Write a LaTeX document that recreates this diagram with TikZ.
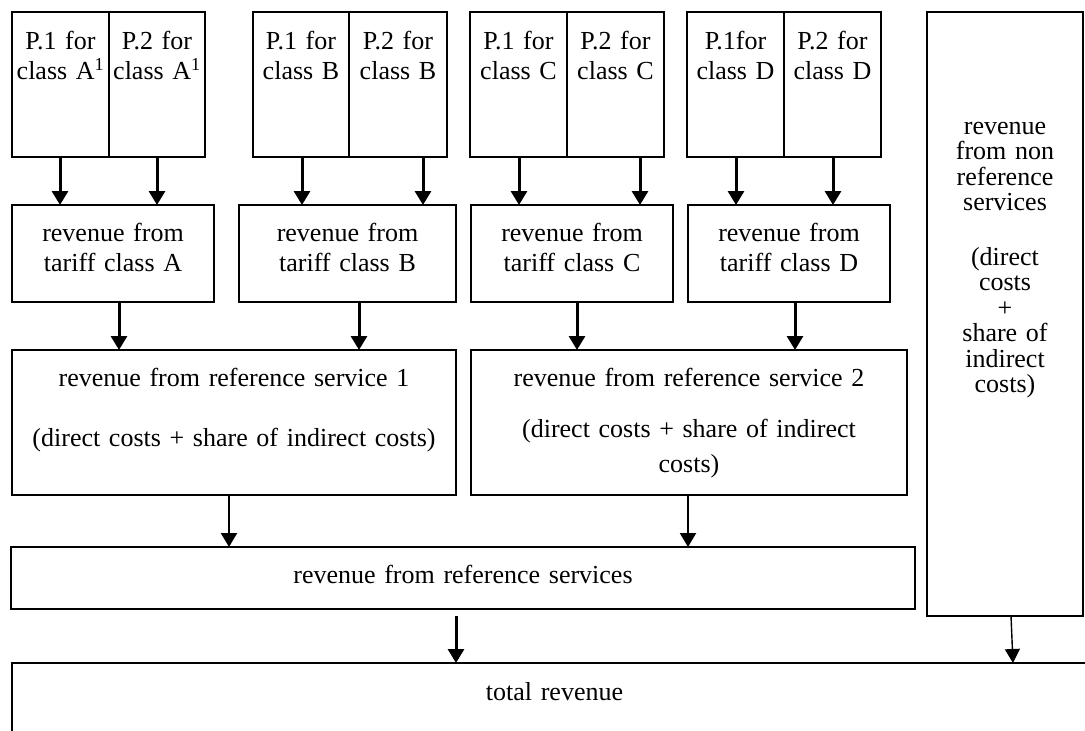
\documentclass[tikz,border=0pt]{standalone}
\usepackage{fontspec}
\setmainfont{Liberation Serif}
\usetikzlibrary{arrows.meta}
\begin{document}
\begin{tikzpicture}[x=1pt,y=-1pt,
  font=\fontsize{26}{30.5}\selectfont,
  box/.style={draw, line width=1.5pt, inner sep=0pt, outer sep=0pt, anchor=north west},
  bbox/.style={box, line width=2pt},
  lbl/.style={anchor=base, inner sep=0pt, outer sep=0pt, align=center, text width=#1},
  arrT/.style={line width=3pt, -{Triangle[width=16pt,length=14pt]}},
  arrM/.style={line width=2.2pt, -{Triangle[width=16pt,length=14pt]}},
  arrS/.style={line width=1.4pt, -{Triangle[width=15pt,length=14pt]}}]
\useasboundingbox (0,0) rectangle (1085,731);
\fill[white] (0,0) rectangle (1085,731);
\clip (0,0) rectangle (1085,731);

% top boxes
\node[box, minimum width=97pt, minimum height=145pt] (pA1) at (12,12) {};
\node[box, minimum width=96pt, minimum height=145pt] (pA2) at (109,12) {};
\node[box, minimum width=96pt, minimum height=145pt] (pB1) at (253,12) {};
\node[box, minimum width=98pt, minimum height=145pt] (pB2) at (349,12) {};
\node[box, minimum width=97pt, minimum height=145pt] (pC1) at (470,12) {};
\node[box, minimum width=97pt, minimum height=145pt] (pC2) at (567,12) {};
\node[box, minimum width=97pt, minimum height=145pt] (pD1) at (687,12) {};
\node[box, minimum width=97pt, minimum height=145pt] (pD2) at (784,12) {};

\node[lbl=95pt] (lA1) at (60.5,49) {P.1 for\\class A\textsuperscript{1}};
\node[lbl=95pt] (lA2) at (157,49) {P.2 for\\class A\textsuperscript{1}};
\node[lbl=95pt] (lB1) at (301,49) {P.1 for\\class B};
\node[lbl=95pt] (lB2) at (398,49) {P.2 for\\class B};
\node[lbl=95pt] (lC1) at (518.5,49) {P.1 for\\class C};
\node[lbl=95pt] (lC2) at (615.5,49) {P.2 for\\class C};
\node[lbl=95pt] (lD1) at (735.5,49) {P.1for\\class D};
\node[lbl=95pt] (lD2) at (832.5,49) {P.2 for\\class D};

% tariff boxes
\node[box, minimum width=202pt, minimum height=97pt] (tA) at (12,205) {};
\node[box, minimum width=217pt, minimum height=97pt] (tB) at (239,205) {};
\node[box, minimum width=202pt, minimum height=97pt] (tC) at (471,205) {};
\node[box, minimum width=202pt, minimum height=97pt] (tD) at (688,205) {};
\node[lbl=200pt] (ltA) at (113,241) {revenue from\\tariff class A};
\node[lbl=200pt] (ltB) at (347.5,241) {revenue from\\tariff class B};
\node[lbl=200pt] (ltC) at (572,241) {revenue from\\tariff class C};
\node[lbl=200pt] (ltD) at (789,241) {revenue from\\tariff class D};

% reference service boxes
\node[box, minimum width=444pt, minimum height=145pt] (r1) at (12,350) {};
\node[box, minimum width=436pt, minimum height=145pt] (r2) at (471,350) {};
\node[lbl=440pt] (lr1) at (234,386) {revenue from reference service 1\\[29.5pt](direct costs + share of indirect costs)};
\node[lbl=430pt] (lr2) at (689,386) {revenue from reference service 2\\[20.5pt](direct costs + share of indirect\\[4.5pt]costs)};

% non reference box
\node[box, line width=1.6pt, minimum width=156pt, minimum height=604pt] (nr) at (927,12) {};
\node[lbl=150pt, font=\fontsize{26}{25.5}\selectfont] (lnr) at (1005,134)
  {revenue\\from non\\reference\\services\\[29pt](direct\\costs\\+\\share of\\indirect\\costs)};

% reference services
\node[bbox, minimum width=904pt, minimum height=62pt] (rs) at (11,547) {};
\node[lbl=600pt] (lrs) at (463,583) {revenue from reference services};

% total revenue
\node[bbox, minimum width=1088pt, minimum height=120pt] (tot) at (12,663) {};
\node[lbl=300pt] (ltot) at (554.5,700) {total revenue};

% arrows top -> tariff
\draw[arrT] (pA1.south -| 60,0) -- (tA.north -| 60,0);
\draw[arrT] (pA2.south -| 157,0) -- (tA.north -| 157,0);
\draw[arrT] (pB1.south -| 302,0) -- (tB.north -| 302,0);
\draw[arrT] (pB2.south -| 423,0) -- (tB.north -| 423,0);
\draw[arrT] (pC1.south -| 519,0) -- (tC.north -| 519,0);
\draw[arrT] (pC2.south -| 640,0) -- (tC.north -| 640,0);
\draw[arrT] (pD1.south -| 736,0) -- (tD.north -| 736,0);
\draw[arrT] (pD2.south -| 833,0) -- (tD.north -| 833,0);

% tariff -> reference service
\draw[arrT] (tA.south -| 119,0) -- (r1.north -| 119,0);
\draw[arrT] (tB.south -| 359,0) -- (r1.north -| 359,0);
\draw[arrT] (tC.south -| 577,0) -- (r2.north -| 577,0);
\draw[arrT] (tD.south -| 795,0) -- (r2.north -| 795,0);

% reference service -> reference services
\draw[arrM] (r1.south -| 229,0) -- (rs.north -| 229,0);
\draw[arrM] (r2.south -| 688,0) -- (rs.north -| 688,0);

% -> total revenue
\draw[arrT, shorten <=7pt] (rs.south -| 456,0) -- (tot.north -| 456,0);
\draw[arrS] (nr.south -| 1011,0) -- (tot.north -| 1013,0);
\end{tikzpicture}
\end{document}
